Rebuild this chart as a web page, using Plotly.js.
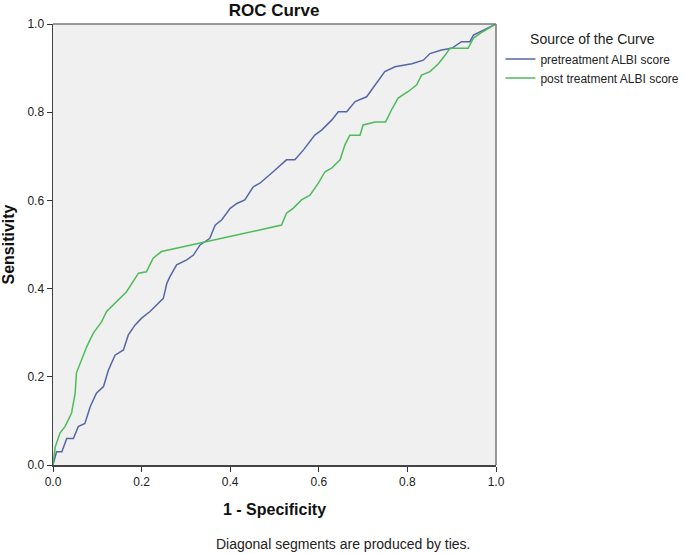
<!DOCTYPE html>
<html>
<head>
<meta charset="utf-8">
<script src="https://cdn.plot.ly/plotly-3.0.1.min.js"></script>
<style>
  body { margin: 0; background: #fff; }
  #roc { width: 685px; height: 554px; }
</style>
</head>
<body>
<div id="roc"></div>
<script>
// ROC points (1 - specificity, sensitivity)
const preFpr = [0, 0.008, 0.02, 0.031, 0.046, 0.057, 0.072, 0.084, 0.098, 0.114, 0.125, 0.140, 0.159, 0.170, 0.185, 0.200, 0.219, 0.234, 0.249, 0.257, 0.264, 0.279, 0.302, 0.317, 0.332, 0.354, 0.366, 0.381, 0.400, 0.415, 0.433, 0.452, 0.467, 0.497, 0.527, 0.546, 0.565, 0.591, 0.607, 0.629, 0.644, 0.663, 0.682, 0.708, 0.727, 0.749, 0.772, 0.810, 0.836, 0.851, 0.877, 0.900, 0.922, 0.941, 0.949, 0.971, 1];
const preTpr = [0, 0.030, 0.030, 0.060, 0.060, 0.087, 0.094, 0.132, 0.163, 0.178, 0.215, 0.249, 0.261, 0.295, 0.317, 0.333, 0.348, 0.363, 0.378, 0.412, 0.427, 0.454, 0.465, 0.476, 0.499, 0.514, 0.544, 0.556, 0.582, 0.593, 0.601, 0.631, 0.639, 0.665, 0.692, 0.692, 0.714, 0.748, 0.760, 0.782, 0.801, 0.801, 0.824, 0.835, 0.862, 0.892, 0.903, 0.910, 0.918, 0.933, 0.941, 0.945, 0.960, 0.960, 0.975, 0.986, 1];

const postFpr = [0, 0.005, 0.016, 0.027, 0.042, 0.050, 0.053, 0.065, 0.076, 0.091, 0.110, 0.121, 0.144, 0.166, 0.193, 0.211, 0.226, 0.245, 0.516, 0.527, 0.542, 0.561, 0.580, 0.599, 0.614, 0.629, 0.648, 0.659, 0.670, 0.693, 0.700, 0.727, 0.751, 0.764, 0.779, 0.802, 0.821, 0.832, 0.851, 0.870, 0.885, 0.896, 0.937, 0.949, 0.971, 1];
const postTpr = [0, 0.041, 0.073, 0.087, 0.118, 0.163, 0.209, 0.238, 0.268, 0.299, 0.325, 0.348, 0.370, 0.393, 0.435, 0.438, 0.469, 0.484, 0.544, 0.571, 0.582, 0.601, 0.612, 0.639, 0.665, 0.673, 0.692, 0.726, 0.748, 0.748, 0.771, 0.778, 0.778, 0.805, 0.832, 0.847, 0.862, 0.884, 0.892, 0.910, 0.929, 0.945, 0.945, 0.968, 0.983, 1];

const seriesNames = ['pretreatment ALBI score', 'post treatment ALBI score'];
const tickVals = [0, 0.2, 0.4, 0.6, 0.8, 1.0];
const tickText = ['0.0', '0.2', '0.4', '0.6', '0.8', '1.0'];

const FONT = 'Liberation Sans Narrow, Liberation Sans, Arial, sans-serif';

const traces = [
    {
        x: preFpr, y: preTpr,
        type: 'scatter', mode: 'lines',
        name: seriesNames[0],
        line: { color: '#5666a8', width: 1.5 }
    },
    {
        x: postFpr, y: postTpr,
        type: 'scatter', mode: 'lines',
        name: seriesNames[1],
        line: { color: '#4dbb5a', width: 1.5 }
    }
];

const axisStyle = {
    range: [0, 1],
    tickvals: tickVals,
    ticktext: tickText,
    ticks: 'outside',
    ticklen: 5,
    tickcolor: '#333',
    showgrid: false,
    zeroline: false,
    showline: true,
    linecolor: '#444',
    linewidth: 1.5,
    mirror: false,
    tickfont: { family: FONT, size: 12, color: '#222' }
};

const layout = {
    width: 685,
    height: 554,
    margin: { l: 53, r: 189, t: 24, b: 89, autoexpand: false },
    paper_bgcolor: '#fff',
    plot_bgcolor: '#f0f0f0',
    title: {
        text: '<b>ROC Curve</b>',
        font: { family: FONT, size: 17, color: '#111' },
        x: 0.4, xanchor: 'center', y: 0.982, yanchor: 'middle'
    },
    xaxis: Object.assign({}, axisStyle, {
        title: { text: '<b>1 - Specificity</b>', font: { family: FONT, size: 16, color: '#111' }, standoff: 16 }
    }),
    yaxis: Object.assign({}, axisStyle, {
        title: { text: '<b>Sensitivity</b>', font: { family: FONT, size: 16, color: '#111' }, standoff: 12 }
    }),
    shapes: [
        // top and right frame of the plot
        { type: 'line', xref: 'paper', yref: 'paper', x0: 0, x1: 1, y0: 1, y1: 1, line: { color: '#777', width: 1.5 } },
        { type: 'line', xref: 'paper', yref: 'paper', x0: 1, x1: 1, y0: 0, y1: 1, line: { color: '#777', width: 1.5 } }
    ],
    showlegend: true,
    legend: {
        x: 1.01, xanchor: 'left',
        y: 0.995, yanchor: 'top',
        itemwidth: 30,
        tracegroupgap: 0,
        font: { family: FONT, size: 12, color: '#222' },
        title: { text: 'Source of the Curve', side: 'top center', font: { family: FONT, size: 14, color: '#222' } },
        bgcolor: 'rgba(0,0,0,0)'
    },
    annotations: [
        {
            text: 'Diagonal segments are produced by ties.',
            xref: 'paper', yref: 'paper',
            x: 0.655, y: -0.18,
            xanchor: 'center', yanchor: 'middle',
            showarrow: false,
            font: { family: FONT, size: 14, color: '#222' }
        }
    ]
};

Plotly.newPlot('roc', traces, layout, { displayModeBar: false, staticPlot: true });
</script>
</body>
</html>
